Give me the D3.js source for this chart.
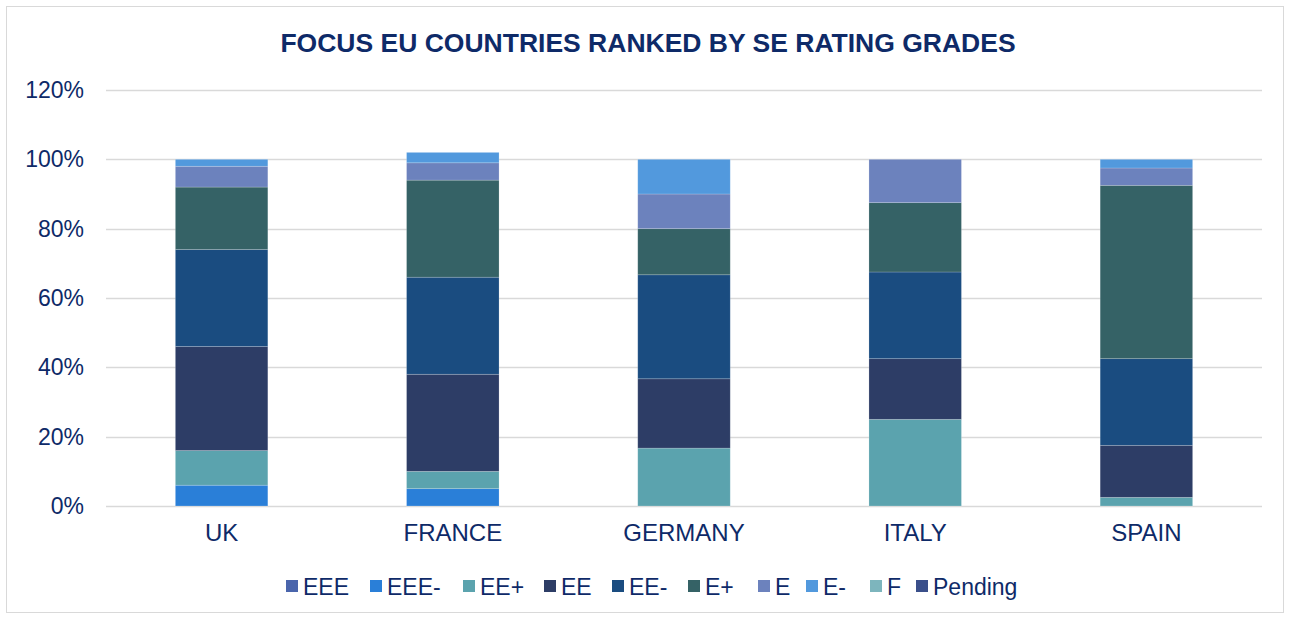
<!DOCTYPE html>
<html>
<head>
<meta charset="utf-8">
<script src="https://cdn.jsdelivr.net/npm/d3@7"></script>
<style>
  body { margin: 0; background: #fff; }
  svg { font-family: Arial, "Liberation Sans", sans-serif; }
</style>
</head>
<body>
<svg id="chart" width="1290" height="619"></svg>
<script>
// data
var countries = ['UK', 'FRANCE', 'GERMANY', 'ITALY', 'SPAIN'];
var grades = ['EEE', 'EEE-', 'EE+', 'EE', 'EE-', 'E+', 'E', 'E-', 'F', 'Pending'];
var EEE     = [0, 0, 0, 0, 0];
var EEEm    = [6, 5, 0, 0, 0];
var EEp     = [10, 5, 16.7, 25, 2.5];
var EE      = [30, 28, 20, 17.5, 15];
var EEm     = [28, 28, 30, 25, 25];
var Ep      = [18, 28, 13.3, 20, 50];
var E       = [6, 5, 10, 12.5, 5];
var Em      = [2, 3, 10, 0, 2.5];
var F       = [0, 0, 0, 0, 0];
var Pending = [0, 0, 0, 0, 0];
var yTicks = [0, 20, 40, 60, 80, 100, 120];

var colors = ['#4a65ac', '#2a7fd8', '#5ba3ae', '#2d3d66', '#1a4c80',
              '#356266', '#6c82bd', '#5299dd', '#7db5bd', '#3a4f8a'];
var seriesVals = [EEE, EEEm, EEp, EE, EEm, Ep, E, Em, F, Pending];

var rows = countries.map(function(c, i) {
  var r = {country: c};
  grades.forEach(function(g, j) { r[g] = seriesVals[j][i]; });
  return r;
});

var svg = d3.select('#chart');
var textCol = '#0e2a68';

// outer frame
svg.append('rect')
    .attr('x', 6.5).attr('y', 6.5)
    .attr('width', 1277).attr('height', 606)
    .attr('fill', '#fff')
    .attr('stroke', '#d9d9d9')
    .attr('stroke-width', 1);

var margin = {left: 106, right: 28, top: 90, bottom: 113};
var w = 1290 - margin.left - margin.right;
var h = 619 - margin.top - margin.bottom;

var x = d3.scaleBand().domain(countries).range([0, w])
    .paddingInner(0.6).paddingOuter(0.3);
var y = d3.scaleLinear().domain([0, 120]).range([h, 0]);

var g = svg.append('g').attr('transform', 'translate(' + margin.left + ',' + margin.top + ')');

// gridlines
g.append('g').selectAll('line')
    .data(yTicks)
    .join('line')
    .attr('x1', 0).attr('x2', w)
    .attr('y1', function(d) { return Math.round(y(d)) + 0.5; })
    .attr('y2', function(d) { return Math.round(y(d)) + 0.5; })
    .attr('stroke', '#d9d9d9')
    .attr('stroke-width', 1.3);

// y axis labels
var yAxis = d3.axisLeft(y).tickValues(yTicks)
    .tickFormat(function(d) { return d + '%'; })
    .tickSize(0).tickPadding(22);
g.append('g').call(yAxis)
    .call(function(s) { s.select('.domain').remove(); })
    .selectAll('text')
    .attr('font-size', '23px')
    .attr('font-family', 'Arial, "Liberation Sans", sans-serif')
    .attr('fill', textCol);

// x axis labels
var xAxis = d3.axisBottom(x).tickSize(0).tickPadding(18);
g.append('g').attr('transform', 'translate(0,' + h + ')').call(xAxis)
    .call(function(s) { s.select('.domain').remove(); })
    .selectAll('text')
    .attr('font-size', '24px')
    .attr('font-family', 'Arial, "Liberation Sans", sans-serif')
    .attr('fill', textCol);

// stacked bars
var stack = d3.stack().keys(grades)(rows);
g.append('g').selectAll('g')
    .data(stack)
    .join('g')
    .attr('fill', function(d, i) { return colors[i]; })
    .selectAll('rect')
    .data(function(d) { return d; })
    .join('rect')
    .filter(function(d) { return d[1] - d[0] > 0; })
    .attr('x', function(d) { return x(d.data.country); })
    .attr('y', function(d) { return y(d[1]); })
    .attr('width', x.bandwidth())
    .attr('height', function(d) { return y(d[0]) - y(d[1]); })
    .attr('stroke', 'rgba(255,255,255,0.25)')
    .attr('stroke-width', 0.75);

// title
svg.append('text')
    .attr('x', 648).attr('y', 52)
    .attr('text-anchor', 'middle')
    .attr('font-size', '26.5px')
    .attr('font-weight', 'bold')
    .attr('fill', textCol)
    .text('FOCUS EU COUNTRIES RANKED BY SE RATING GRADES');

// legend
var legendX = [286, 370, 463, 544, 612, 688, 758, 806, 870, 916];
var leg = svg.append('g').selectAll('g')
    .data(grades)
    .join('g')
    .attr('transform', function(d, i) { return 'translate(' + legendX[i] + ',586)'; });
leg.append('rect')
    .attr('x', 0).attr('y', -6)
    .attr('width', 12).attr('height', 12)
    .attr('fill', function(d, i) { return colors[i]; });
leg.append('text')
    .attr('x', 17).attr('y', 8.5)
    .attr('font-size', '23px')
    .attr('fill', textCol)
    .text(function(d) { return d; });
</script>
</body>
</html>
